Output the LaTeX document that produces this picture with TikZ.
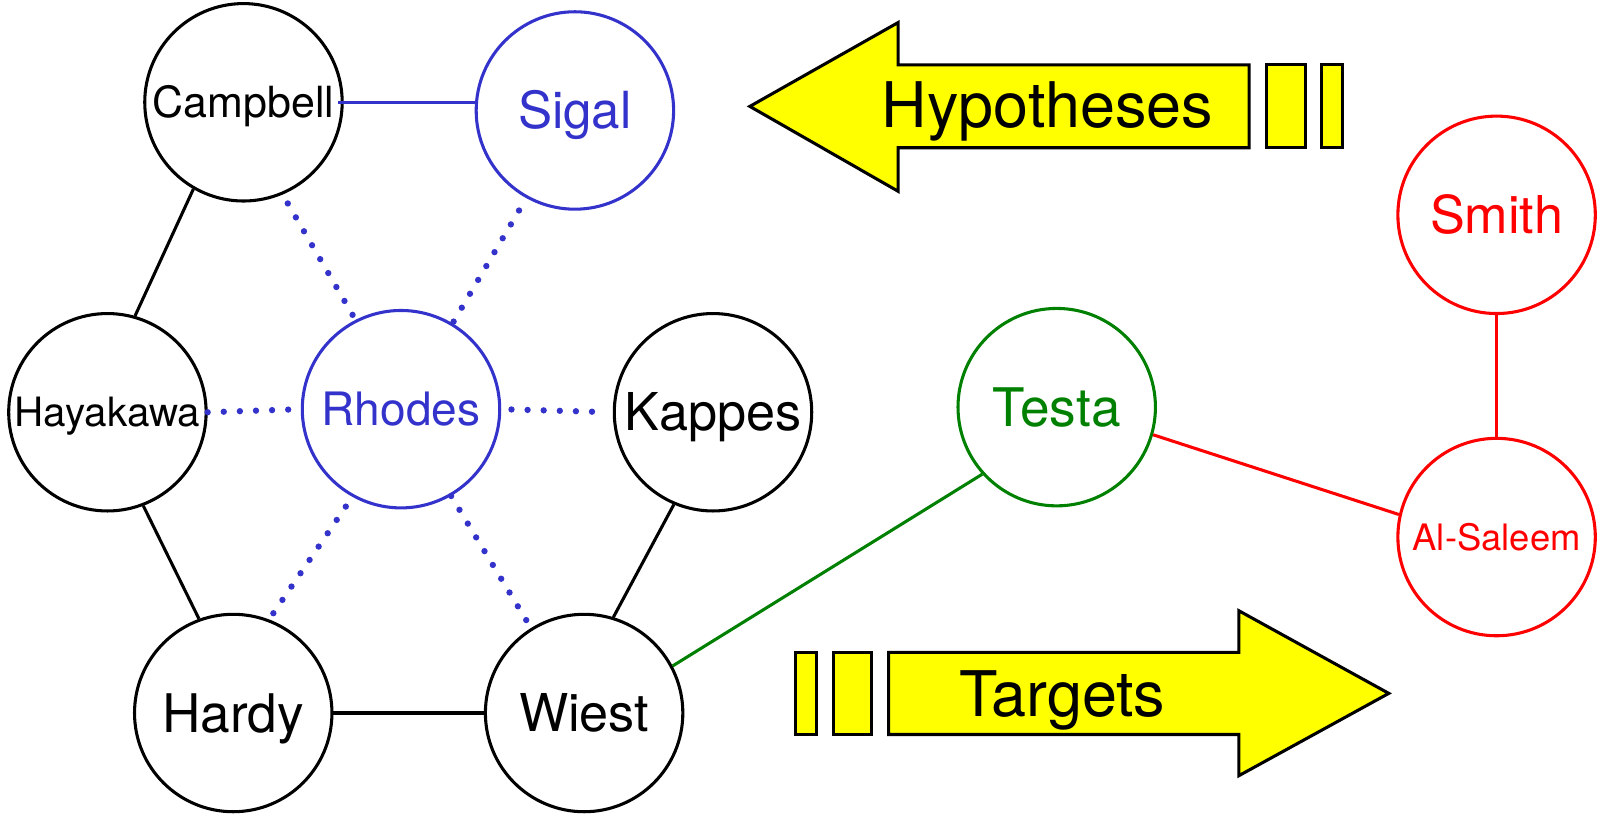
\documentclass[tikz,border=0pt]{standalone}
\usepackage{fontspec}
\setmainfont{TeX Gyre Heros}
\definecolor{netblue}{RGB}{51,51,204}
\definecolor{netgreen}{RGB}{0,128,0}
\definecolor{netred}{RGB}{255,0,0}
\definecolor{arrowyellow}{RGB}{255,255,0}
\begin{document}
\begin{tikzpicture}[x=1pt,y=-1pt,
  person/.style 2 args={circle, draw=#2, text=#2, line width=3pt,
    minimum size=193pt, inner sep=0pt,
    font=\fontsize{#1pt}{#1pt}\selectfont,
    text height={0.718*#1pt}, text depth=0pt},
  link/.style={line width=3pt},
  hint/.style={draw=netblue, line width=6.2pt, line cap=round,
    dash pattern=on 0pt off 15.75pt},
  banner/.style={draw=black, fill=arrowyellow, line width=3pt},
  bannertext/.style={font=\fontsize{61.5pt}{61.5pt}\selectfont, anchor=base,
    inner sep=0pt}
]
\useasboundingbox (0,0) rectangle (1568,795);

% people
\node[person={42}{black}]     (Campbell) at (238,100) {Campbell};
\node[person={50}{netblue}]   (Sigal)    at (562,108) {Sigal};
\node[person={39.5}{black}]   (Hayakawa) at (105,403) {Hayakawa};
\node[person={45}{netblue}]   (Rhodes)   at (392,400) {Rhodes};
\node[person={51}{black}]     (Kappes)   at (697,403) {Kappes};
\node[person={52}{black}]     (Hardy)    at (228,697) {Hardy};
\node[person={51}{black}]     (Wiest)    at (571,697) {Wiest};
\node[person={52}{netgreen}]  (Testa)    at (1033,398) {Testa};
\node[person={51}{netred}]    (Smith)    at (1463,210) {Smith};
\node[person={35.6}{netred}]  (AlSaleem) at (1463,525) {Al-Saleem};

% solid links
\draw[link] (Campbell.240) -- (Hayakawa.74);
\draw[link] (Hayakawa.291) -- (Hardy.110);
\draw[link] (Hardy.east) -- (Wiest.west);
\draw[link] (Kappes.247) -- (Wiest.73);
\draw[link, netgreen] (Wiest.28) -- (Testa.222);
\draw[link, netred] (Testa.344) -- (AlSaleem.167);
\draw[link, netred] (Smith.south) -- (AlSaleem.north);
\draw[link, netblue] ([xshift=-6pt]Campbell.east) -- (Campbell.east -| Sigal.west);

% dotted links around Rhodes
\draw[hint] (Hayakawa.east) -- (Rhodes.west);
\draw[hint, shorten <=10pt, shorten >=18.5pt] (Rhodes.east) -- (Kappes.west);
\draw[hint, shorten <=10pt, shorten >=5.5pt] (Campbell.293) -- (Rhodes.117);
\draw[hint, shorten <=14pt, shorten >=1.5pt] (Sigal.241) -- (Rhodes.59);
\draw[hint, shorten <=11.5pt, shorten >=7.3pt] (Rhodes.241) -- (Hardy.69);
\draw[hint, shorten >=8.5pt] (Rhodes.300) -- (Wiest.122);

% hypotheses banner
\draw[banner] (733,104) -- (878,22) -- (878,63.5) -- (1221,63.5)
  -- (1221,144.4) -- (878,144.4) -- (878,187) -- cycle;
\draw[banner] (1238,63.5) rectangle (1276,144.4);
\draw[banner] (1292,63.5) rectangle (1312,144.4);
\node[bannertext] (Hypotheses) at (1024,124.3) {Hypotheses};

% targets banner
\draw[banner] (778,637.7) rectangle (798,718);
\draw[banner] (815,637.7) rectangle (851.5,718);
\draw[banner] (868.6,637.7) -- (1211,637.7) -- (1211,597) -- (1357.6,677.8)
  -- (1211,758.3) -- (1211,718) -- (868.6,718) -- cycle;
\node[bannertext] (Targets) at (1038.5,700.6) {Targets};
\end{tikzpicture}
\end{document}
